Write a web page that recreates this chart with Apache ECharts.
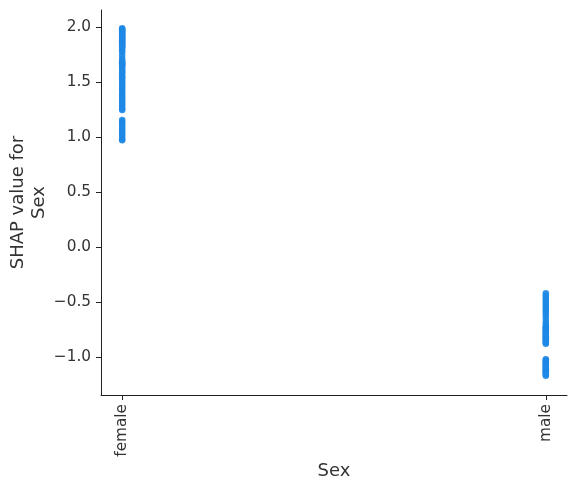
<!DOCTYPE html>
<html><head><meta charset="utf-8">
<script src="https://cdn.jsdelivr.net/npm/echarts@6/dist/echarts.min.js"></script>
<style>html,body{margin:0;padding:0;background:#fff}#c{width:575px;height:491px}</style>
</head><body><div id="c"></div>
<script>
var categories = ["female", "male"];
var femaleValues = [1.99,1.98,1.97,1.96,1.95,1.94,1.93,1.92,1.91,1.90,1.89,1.88,1.87,1.86,1.85,1.84,1.83,1.82,1.81,1.79,1.77,1.74,1.71,1.69,1.68,1.67,1.66,1.65,1.64,1.62,1.60,1.59,1.57,1.55,1.54,1.52,1.50,1.48,1.46,1.44,1.42,1.40,1.38,1.36,1.34,1.32,1.30,1.28,1.26,1.245,1.155,1.14,1.12,1.10,1.08,1.06,1.04,1.02,1.00,0.98,0.97];
var maleValues = [-0.42,-0.44,-0.46,-0.48,-0.50,-0.52,-0.54,-0.56,-0.58,-0.60,-0.62,-0.65,-0.68,-0.70,-0.72,-0.73,-0.74,-0.75,-0.76,-0.77,-0.78,-0.79,-0.80,-0.81,-0.82,-0.83,-0.84,-0.85,-0.86,-0.87,-0.88,-1.02,-1.03,-1.04,-1.05,-1.06,-1.07,-1.08,-1.09,-1.10,-1.11,-1.12,-1.13,-1.14,-1.15,-1.16,-1.17];
var yTicks = [-1, -0.5, 0, 0.5, 1, 1.5, 2];

var pts = [];
femaleValues.forEach(function(v){ pts.push([0, v]); });
maleValues.forEach(function(v){ pts.push([1, v]); });

var font = "DejaVu Sans";
var chart = echarts.init(document.getElementById('c'), null, {renderer:'canvas'});
chart.setOption({
  animation: false,
  grid: {left: 101, top: 10, right: 8, bottom: 96, containLabel: false, outerBoundsMode: 'none'},
  xAxis: {
    type: 'value', min: -0.05, max: 1.05,
    name: 'Sex', nameLocation: 'middle', nameGap: 67, nameMoveOverlap: false,
    nameTextStyle: {fontFamily: font, fontSize: 18, color: '#333'},
    axisLine: {show: true, onZero: false, lineStyle: {color: '#222', width: 1}},
    axisTick: {show: true, length: 5, customValues: [0, 1], lineStyle: {color: '#222'}},
    axisLabel: {rotate: 90, margin: 9, fontFamily: font, fontSize: 15.3, color: '#333',
      customValues: [0, 1],
      formatter: function(v){ return categories[Math.round(v)]; }},
    splitLine: {show: false}
  },
  yAxis: {
    type: 'value', min: -1.345, max: 2.155,
    name: 'SHAP value for\nSex', nameLocation: 'middle', nameGap: 51, nameMoveOverlap: false,
    nameTextStyle: {fontFamily: font, fontSize: 18, color: '#333', lineHeight: 21},
    axisLine: {show: true, onZero: false, lineStyle: {color: '#222', width: 1}},
    axisTick: {show: true, length: 5, customValues: yTicks, lineStyle: {color: '#222'}},
    axisLabel: {margin: 10, fontFamily: font, fontSize: 15.3, color: '#333',
      customValues: yTicks,
      formatter: function(v){ return v.toFixed(1).replace('-', '\u2212'); }},
    splitLine: {show: false}
  },
  series: [{
    type: 'scatter', data: pts, symbolSize: 6.5,
    itemStyle: {color: '#1E88E5', opacity: 0.9}
  }]
});
</script></body></html>
